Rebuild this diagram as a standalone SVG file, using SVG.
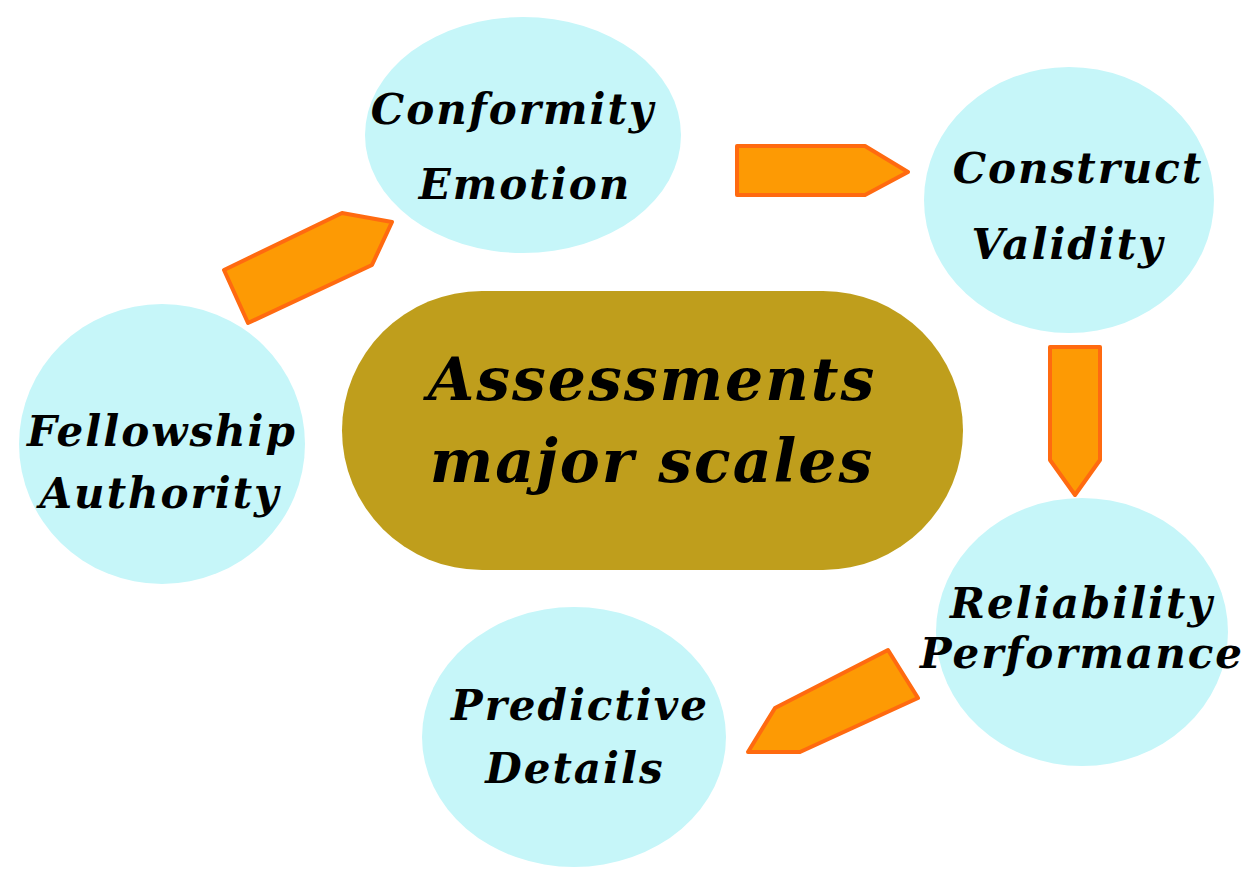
<svg xmlns="http://www.w3.org/2000/svg" width="1251" height="882" viewBox="0 0 1251 882">
<style>
.n{fill:#c6f6f9}
.t{font-family:"DejaVu Serif","Liberation Serif",serif;font-style:italic;font-weight:bold;font-size:42px;fill:#000;text-anchor:middle;letter-spacing:2px}
.a{fill:#fd9a04;stroke:#ff6a10;stroke-width:4;stroke-linejoin:round}
</style>
<rect width="1251" height="882" fill="#fff"/>
<g id="center"><rect x="342" y="291" width="621" height="279" rx="140" fill="#bf9e1c"/>
<text class="t" x="652" y="400" style="font-size:60px">Assessments</text>
<text class="t" x="652" y="482" style="font-size:60px">major scales</text></g>
<g id="conformity"><ellipse class="n" cx="523" cy="135" rx="158" ry="118"/>
<text class="t" x="513" y="124">Conformity</text><text class="t" x="525" y="199">Emotion</text></g>
<g id="construct"><ellipse class="n" cx="1069" cy="200" rx="145" ry="133"/>
<text class="t" x="1078" y="183">Construct</text><text class="t" x="1068" y="259">Validity</text></g>
<g id="fellowship"><ellipse class="n" cx="162" cy="444" rx="143" ry="140"/>
<text class="t" x="162" y="446">Fellowship</text><text class="t" x="160" y="508">Authority</text></g>
<g id="reliability"><ellipse class="n" cx="1082" cy="632" rx="146" ry="134"/>
<text class="t" x="1082" y="618">Reliability</text><text class="t" x="1082" y="668">Performance</text></g>
<g id="predictive"><ellipse class="n" cx="574" cy="737" rx="152" ry="130"/>
<text class="t" x="580" y="720">Predictive</text><text class="t" x="575" y="783">Details</text></g>
<g id="connectors">
<polygon class="a" points="737,146 865,146 908,172 865,195 737,195"/>
<polygon class="a" points="1050,347 1100,347 1100,460 1075,495 1050,460"/>
<polygon class="a" points="224,270 342,213 392,222 372,265 248,323"/>
<polygon class="a" points="888,650 918,698 800,752 748,752 775,708"/>
</g>
</svg>
